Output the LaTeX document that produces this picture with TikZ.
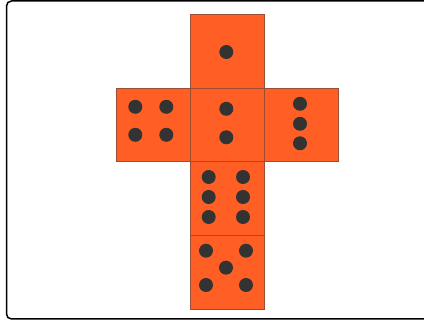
\documentclass[tikz,border=0pt]{standalone}
\usetikzlibrary{calc}
\definecolor{diceorange}{HTML}{FF5F24}
\definecolor{diceedge}{HTML}{9A4E32}
\definecolor{pipgrey}{HTML}{333333}
\tikzset{
  face/.style={rectangle, draw=diceedge, fill=diceorange, line width=0.6pt,
               minimum size=73.8pt, inner sep=0pt},
  pip/.style={fill=pipgrey},
  frame/.style={draw=black, line width=1.5pt, rounded corners=5pt},
}
\begin{document}
\begin{tikzpicture}[x=1pt, y=-1pt]
  \useasboundingbox (0,0) rectangle (424,320);
  \begin{scope}
    \clip (0,0) rectangle (424,320);
    \draw[frame] (6.5,1) rectangle (450,319);
  \end{scope}
  % faces of the unfolded die
  \node[face] (top)   at (227.3,51)    {};
  \node[face] (left)  at (153.3,124.8) {};
  \node[face] (mid)   at (227.3,124.8) {};
  \node[face] (right) at (301.5,124.8) {};
  \node[face] (six)   at (227.3,198.5) {};
  \node[face] (five)  at (227.3,272.2) {};
  % pips
  \fill[pip] ($(top)+(-1,1)$) circle (7pt);
  \foreach \x/\y in {-18/-18, 13/-18, -18/10, 13/10}{ \fill[pip] ($(left)+(\x,\y)$) circle (7pt); }
  \foreach \y in {-16, 12.5}{ \fill[pip] ($(mid)+(-1,\y)$) circle (7pt); }
  \foreach \y in {-21, -1, 18.5}{ \fill[pip] ($(right)+(-1.5,\y)$) circle (7pt); }
  \foreach \x in {-18.6, 15.7}{
    \foreach \y in {-21.5, -1.5, 18.5}{ \fill[pip] ($(six)+(\x,\y)$) circle (7pt); }
  }
  \foreach \x/\y in {-21.3/-21.5, 18.7/-21.5, -1.3/-4.5, -21.3/12.8, 18.7/12.8}{ \fill[pip] ($(five)+(\x,\y)$) circle (7pt); }
\end{tikzpicture}
\end{document}
